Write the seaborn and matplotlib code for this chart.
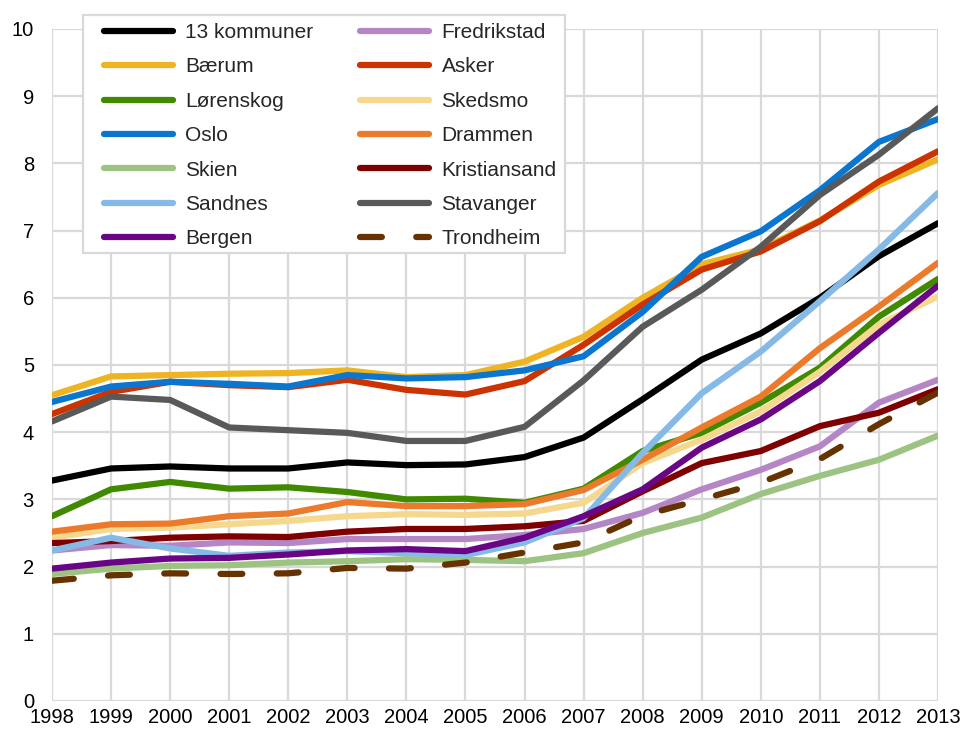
# utvikling per kommune 1998-2013
import pandas as pd
import matplotlib
matplotlib.use("Agg")
import matplotlib.pyplot as plt
from matplotlib.patches import Rectangle
import seaborn as sns

years = list(range(1998, 2014))

kommuner_13 = [3.28, 3.46, 3.49, 3.46, 3.46, 3.55, 3.51, 3.52, 3.63, 3.92, 4.49, 5.08, 5.47, 6.0, 6.62, 7.11]
baerum = [4.55, 4.83, 4.85, 4.87, 4.88, 4.92, 4.82, 4.85, 5.05, 5.42, 6.0, 6.5, 6.72, 7.15, 7.68, 8.06]
lorenskog = [2.75, 3.15, 3.26, 3.16, 3.18, 3.11, 3.0, 3.01, 2.95, 3.16, 3.72, 3.99, 4.44, 4.96, 5.72, 6.28]
oslo = [4.45, 4.68, 4.75, 4.72, 4.68, 4.85, 4.8, 4.82, 4.92, 5.13, 5.79, 6.61, 6.99, 7.6, 8.32, 8.66]
skien = [1.89, 1.97, 2.01, 2.02, 2.06, 2.08, 2.11, 2.1, 2.08, 2.2, 2.5, 2.73, 3.08, 3.35, 3.59, 3.95]
sandnes = [2.24, 2.43, 2.27, 2.16, 2.21, 2.23, 2.2, 2.17, 2.36, 2.72, 3.69, 4.58, 5.2, 5.95, 6.72, 7.56]
bergen = [1.97, 2.06, 2.12, 2.13, 2.18, 2.24, 2.26, 2.23, 2.43, 2.75, 3.15, 3.77, 4.19, 4.76, 5.48, 6.18]
fredrikstad = [2.24, 2.32, 2.31, 2.36, 2.35, 2.41, 2.41, 2.41, 2.47, 2.56, 2.8, 3.15, 3.44, 3.79, 4.44, 4.78]
asker = [4.27, 4.6, 4.75, 4.7, 4.67, 4.78, 4.63, 4.56, 4.76, 5.3, 5.9, 6.42, 6.69, 7.14, 7.73, 8.18]
skedsmo = [2.43, 2.56, 2.58, 2.63, 2.68, 2.75, 2.78, 2.77, 2.79, 2.95, 3.54, 3.89, 4.31, 4.9, 5.6, 6.02]
drammen = [2.52, 2.63, 2.64, 2.75, 2.79, 2.96, 2.9, 2.9, 2.93, 3.14, 3.59, 4.07, 4.53, 5.25, 5.87, 6.52]
kristiansand = [2.35, 2.38, 2.43, 2.45, 2.44, 2.52, 2.56, 2.56, 2.6, 2.68, 3.12, 3.54, 3.72, 4.09, 4.29, 4.64]
stavanger = [4.16, 4.53, 4.48, 4.07, 4.03, 3.99, 3.87, 3.87, 4.08, 4.77, 5.57, 6.12, 6.76, 7.53, 8.13, 8.82]
trondheim = [1.79, 1.87, 1.9, 1.89, 1.9, 1.98, 1.97, 2.06, 2.21, 2.36, 2.76, 3.0, 3.25, 3.6, 4.12, 4.59]

# rekkefølge som i Excel (radvis legend) -> tegnerekkefølge
serier = [
    ("13 kommuner", kommuner_13, "#000000"),
    ("Fredrikstad", fredrikstad, "#B586C5"),
    ("Bærum", baerum, "#EEB422"),
    ("Asker", asker, "#CC3300"),
    ("Lørenskog", lorenskog, "#408A00"),
    ("Skedsmo", skedsmo, "#F5D88E"),
    ("Oslo", oslo, "#0A76CF"),
    ("Drammen", drammen, "#EC7A2B"),
    ("Skien", skien, "#9DC382"),
    ("Kristiansand", kristiansand, "#7F0000"),
    ("Sandnes", sandnes, "#85BAE6"),
    ("Stavanger", stavanger, "#595959"),
    ("Bergen", bergen, "#6A0585"),
    ("Trondheim", trondheim, "#663300"),
]

sns.set_style("white")
plt.rcParams["font.family"] = ["Liberation Sans", "DejaVu Sans"]

W, H = 964, 729
fig = plt.figure(figsize=(W / 100, H / 100), dpi=100)
ax = fig.add_axes([52 / W, 1 - 701 / H, (938 - 52) / W, (701 - 29) / H])

handles = {}
for navn, verdier, farge in serier:
    df = pd.DataFrame({"år": years, "verdi": verdier})
    sns.lineplot(data=df, x="år", y="verdi", color=farge, linewidth=4.5, ax=ax,
                 label=navn, legend=False)
    line = ax.lines[-1]
    line.set_solid_capstyle("round")
    line.set_solid_joinstyle("round")
    if navn == "Trondheim":
        line.set_dashes((3.5, 5.5))
        line.set_dash_capstyle("round")
    handles[navn] = line

ax.set_xlim(1998, 2013)
ax.set_ylim(0, 10)
ax.set_xticks(years)
ax.set_yticks(range(0, 11))
ax.set_xlabel("")
ax.set_ylabel("")
ax.grid(True, color="#d9d9d9", linewidth=1.6)
ax.set_axisbelow(True)
for s in ax.spines.values():
    s.set_visible(False)
ax.tick_params(axis="both", length=0, labelsize=14.5, colors="black")
ax.tick_params(axis="x", pad=5)
ax.tick_params(axis="y", pad=13)

# legendramme tegnes for seg
ramme = Rectangle((83 / W, 1 - 253 / H), (565 - 83) / W, (253 - 15) / H,
                  transform=fig.transFigure, facecolor="white", edgecolor="#d9d9d9",
                  linewidth=1.6, zorder=5)
fig.add_artist(ramme)

rekkefolge = ["13 kommuner", "Bærum", "Lørenskog", "Oslo", "Skien", "Sandnes", "Bergen",
              "Fredrikstad", "Asker", "Skedsmo", "Drammen", "Kristiansand", "Stavanger", "Trondheim"]
leg = fig.legend([handles[n] for n in rekkefolge], rekkefolge, ncol=2,
                 loc="upper left", bbox_to_anchor=(104 / W, 1 - 23 / H),
                 borderaxespad=0, borderpad=0, frameon=False,
                 fontsize=15, handlelength=3.3, handletextpad=0.6,
                 columnspacing=2.25, labelspacing=0.74)
leg.set_zorder(6)

plt.savefig("out.png", dpi=100)
